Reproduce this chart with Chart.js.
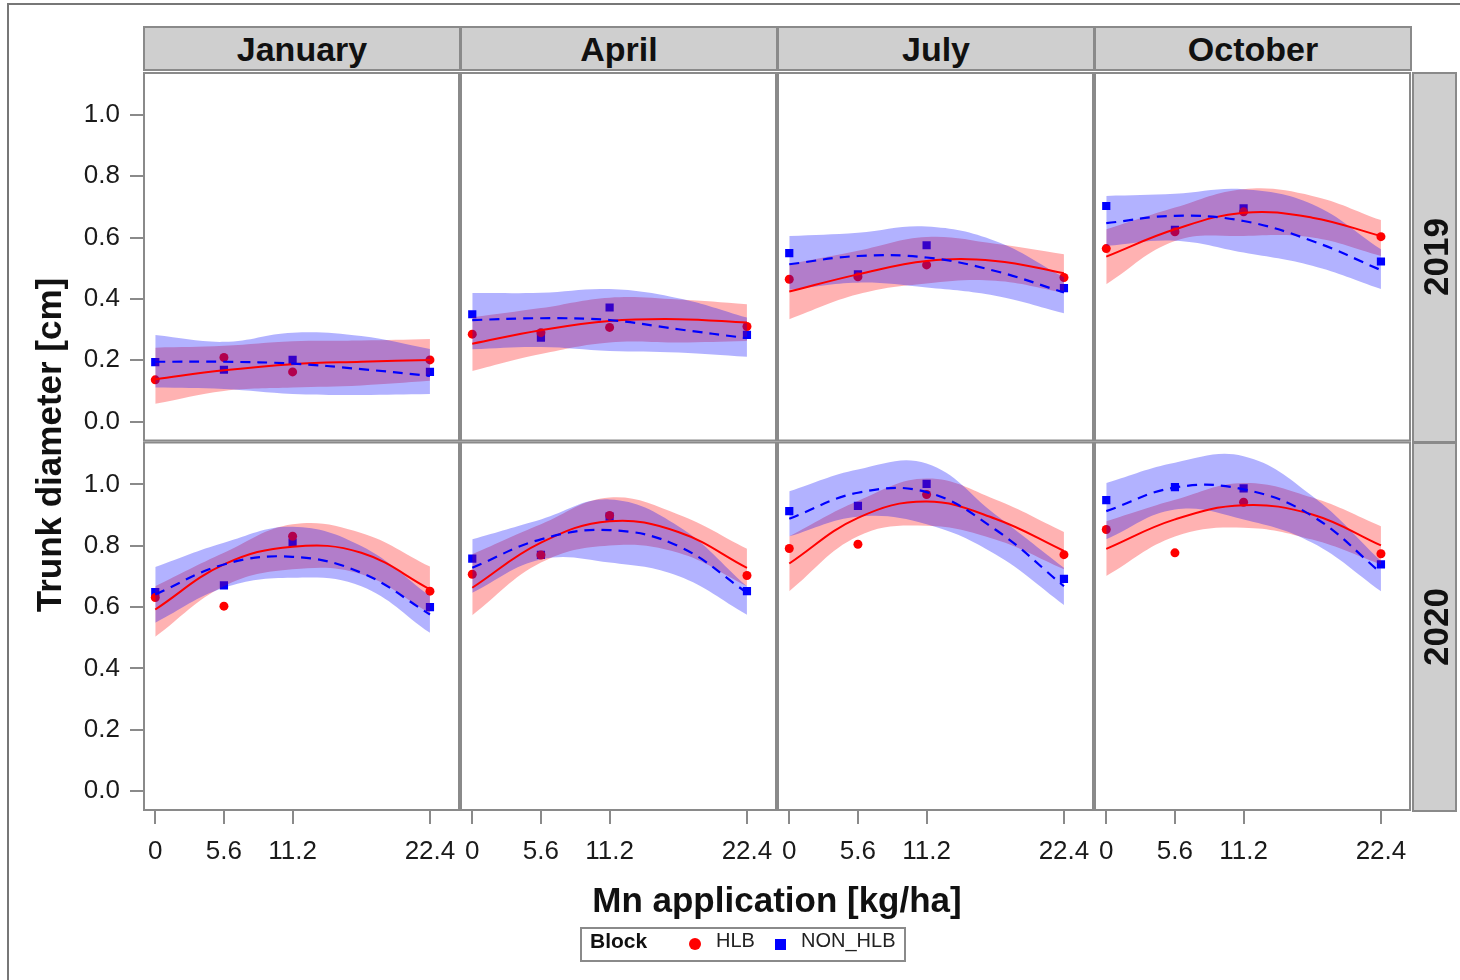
<!DOCTYPE html>
<html>
<head>
<meta charset="utf-8">
<title>Trunk diameter by Mn application</title>
<script src="https://cdn.jsdelivr.net/npm/chart.js@4.4.1/dist/chart.umd.min.js"></script>
<style>
  body { margin: 0; background: #fff; font-family: "Liberation Sans", Arial, sans-serif; }
  #wrap { position: relative; width: 1460px; height: 980px; overflow: hidden; }
  #chart { position: absolute; left: 0; top: 0; }
  .outer { position: absolute; left: 7px; top: 3px; width: 1480px; height: 1000px; border: 2px solid #777; box-sizing: border-box; }
  .strip { position: absolute; background: #cfcfcf; border: 2px solid #8a8a8a; box-sizing: border-box;
           display: flex; align-items: center; justify-content: center;
           font-weight: bold; font-size: 34px; line-height: 1; color: #111; }
  .rot { position: absolute; left: 50%; top: 50%; transform: translate(-50%, -50%) rotate(-90deg); white-space: nowrap; font-size: 35px; }
  .title { position: absolute; font-weight: bold; font-size: 35px; line-height: 1; color: #111; white-space: nowrap; }
  #legend { position: absolute; left: 580px; top: 927px; width: 326px; height: 35px; border: 2px solid #8a8a8a; box-sizing: border-box; }
  #legend span { position: absolute; top: -4px; line-height: 31px; font-size: 20px; color: #222; }
  #legend .mk { top: auto; }
</style>
</head>
<body>
<div id="wrap">
  <canvas id="chart" width="1460" height="980"></canvas>
  <div class="outer"></div>
  <div class="title" id="ytitle" style="left:48px; top:445px; transform: translate(-50%, -50%) rotate(-90deg);">Trunk diameter [cm]</div>
  <div class="title" id="xtitle" style="left:143px; width:1268px; top:882px; text-align:center;">Mn application [kg/ha]</div>
  <div id="legend">
    <span style="left:8px; font-weight:bold; font-size:21px; color:#111;">Block</span>
    <span class="mk" style="left:107px; top:9px; width:12px; height:12px; border-radius:50%; background:#ff0000;"></span>
    <span style="left:134px;">HLB</span>
    <span class="mk" style="left:193px; top:10px; width:11px; height:11px; background:#0000ff;"></span>
    <span style="left:219px;">NON_HLB</span>
  </div>
</div>
<script>
const months = ["January", "April", "July", "October"];
const years = ["2019", "2020"];
const doses = [0, 5.6, 11.2, 22.4];
const fitX = [0, 5.6, 11.2, 16.8, 22.4];
const xTickLabels = ["0", "5.6", "11.2", "22.4"];
const yTicks = [0, 0.2, 0.4, 0.6, 0.8, 1.0];

// rows: January, April, July, October
const hlbMean2019 = [
  [0.136, 0.209, 0.162, 0.201],
  [0.285, 0.290, 0.307, 0.310],
  [0.464, 0.472, 0.511, 0.470],
  [0.564, 0.619, 0.684, 0.603]
];
const nonMean2019 = [
  [0.194, 0.169, 0.201, 0.162],
  [0.350, 0.274, 0.372, 0.283],
  [0.549, 0.480, 0.575, 0.435],
  [0.703, 0.625, 0.695, 0.522]
];
const hlbFit2019 = [
  [0.138, 0.167, 0.187, 0.195, 0.201],
  [0.254, 0.298, 0.328, 0.334, 0.323],
  [0.424, 0.480, 0.524, 0.524, 0.484],
  [0.538, 0.627, 0.681, 0.665, 0.605]
];
const nonFit2019 = [
  [0.195, 0.195, 0.189, 0.171, 0.149],
  [0.331, 0.337, 0.331, 0.301, 0.272],
  [0.513, 0.540, 0.535, 0.491, 0.421],
  [0.647, 0.671, 0.654, 0.589, 0.494]
];
const hlbLow2019 = [
  [0.058, 0.100, 0.111, 0.118, 0.133],
  [0.165, 0.220, 0.258, 0.258, 0.263],
  [0.334, 0.415, 0.450, 0.459, 0.420],
  [0.448, 0.589, 0.605, 0.600, 0.540]
];
const hlbHigh2019 = [
  [0.241, 0.247, 0.262, 0.264, 0.269],
  [0.340, 0.370, 0.404, 0.398, 0.383],
  [0.513, 0.557, 0.602, 0.580, 0.546],
  [0.627, 0.698, 0.758, 0.736, 0.657]
];
const nonLow2019 = [
  [0.111, 0.106, 0.090, 0.087, 0.090],
  [0.236, 0.243, 0.230, 0.225, 0.211],
  [0.430, 0.453, 0.437, 0.410, 0.353],
  [0.573, 0.590, 0.551, 0.508, 0.432]
];
const nonHigh2019 = [
  [0.282, 0.260, 0.290, 0.279, 0.237],
  [0.419, 0.420, 0.432, 0.402, 0.339],
  [0.605, 0.616, 0.636, 0.589, 0.471],
  [0.736, 0.743, 0.758, 0.709, 0.562]
];

const hlbMean2020 = [
  [0.631, 0.603, 0.831, 0.652],
  [0.707, 0.770, 0.899, 0.703],
  [0.791, 0.805, 0.967, 0.771],
  [0.853, 0.777, 0.942, 0.774]
];
const nonMean2020 = [
  [0.649, 0.671, 0.810, 0.600],
  [0.758, 0.770, 0.895, 0.652],
  [0.913, 0.930, 1.002, 0.692],
  [0.949, 0.991, 0.987, 0.739]
];
const hlbFit2020 = [
  [0.592, 0.739, 0.797, 0.777, 0.658],
  [0.663, 0.810, 0.880, 0.845, 0.728],
  [0.742, 0.891, 0.944, 0.888, 0.783],
  [0.790, 0.886, 0.932, 0.902, 0.801]
];
const nonFit2020 = [
  [0.641, 0.739, 0.764, 0.712, 0.576],
  [0.728, 0.821, 0.851, 0.799, 0.647],
  [0.888, 0.973, 0.975, 0.853, 0.668],
  [0.913, 0.990, 0.984, 0.897, 0.712]
];
const hlbLow2020 = [
  [0.503, 0.668, 0.723, 0.707, 0.580],
  [0.573, 0.745, 0.801, 0.777, 0.668],
  [0.652, 0.831, 0.865, 0.820, 0.723],
  [0.701, 0.830, 0.859, 0.820, 0.739]
];
const hlbHigh2020 = [
  [0.668, 0.777, 0.870, 0.842, 0.732],
  [0.772, 0.870, 0.957, 0.902, 0.790],
  [0.831, 0.946, 1.019, 0.951, 0.845],
  [0.880, 0.950, 1.005, 0.957, 0.864]
];
const nonLow2020 = [
  [0.549, 0.663, 0.696, 0.668, 0.516],
  [0.647, 0.755, 0.745, 0.701, 0.575],
  [0.831, 0.895, 0.870, 0.772, 0.607],
  [0.821, 0.918, 0.886, 0.810, 0.652]
];
const nonHigh2020 = [
  [0.731, 0.810, 0.862, 0.799, 0.636],
  [0.821, 0.886, 0.951, 0.864, 0.668],
  [0.978, 1.049, 1.068, 0.902, 0.728],
  [1.005, 1.071, 1.092, 0.962, 0.750]
];

const byYear = [
  { hlbMean: hlbMean2019, nonMean: nonMean2019, hlbFit: hlbFit2019, nonFit: nonFit2019,
    hlbLow: hlbLow2019, hlbHigh: hlbHigh2019, nonLow: nonLow2019, nonHigh: nonHigh2019 },
  { hlbMean: hlbMean2020, nonMean: nonMean2020, hlbFit: hlbFit2020, nonFit: nonFit2020,
    hlbLow: hlbLow2020, hlbHigh: hlbHigh2020, nonLow: nonLow2020, nonHigh: nonHigh2020 }
];

const RED = "#ff0000", BLUE = "#0000ff";
const FONT = '"Liberation Sans", Arial, sans-serif';
Chart.defaults.font.family = FONT;

function xy(xs, ys) {
  return xs.map((x, i) => ({ x: x, y: ys[i] }));
}

const datasets = [];
years.forEach((yr, r) => {
  const d = byYear[r];
  months.forEach((m, c) => {
    const ax = { xAxisID: "x" + c, yAxisID: "y" + r, tension: 0.4 };
    // confidence bands (upper fills down to the following lower edge)
    datasets.push({ ...ax, label: "HLB upper", data: xy(fitX, d.hlbHigh[c]), fill: "+1",
      backgroundColor: "rgba(255,0,0,0.3)", borderColor: "transparent", borderWidth: 0, pointRadius: 0, order: 3 });
    datasets.push({ ...ax, label: "HLB lower", data: xy(fitX, d.hlbLow[c]), fill: false,
      borderColor: "transparent", borderWidth: 0, pointRadius: 0, order: 3 });
    datasets.push({ ...ax, label: "NON_HLB upper", data: xy(fitX, d.nonHigh[c]), fill: "+1",
      backgroundColor: "rgba(0,0,255,0.3)", borderColor: "transparent", borderWidth: 0, pointRadius: 0, order: 2 });
    datasets.push({ ...ax, label: "NON_HLB lower", data: xy(fitX, d.nonLow[c]), fill: false,
      borderColor: "transparent", borderWidth: 0, pointRadius: 0, order: 2 });
    // fitted curves
    datasets.push({ ...ax, label: "HLB fit", data: xy(fitX, d.hlbFit[c]), fill: false,
      borderColor: RED, borderWidth: 2, pointRadius: 0, order: 1 });
    datasets.push({ ...ax, label: "NON_HLB fit", data: xy(fitX, d.nonFit[c]), fill: false,
      borderColor: BLUE, borderWidth: 2.2, borderDash: [10, 7], pointRadius: 0, order: 0 });
    // observed means
    datasets.push({ ...ax, label: "HLB", data: xy(doses, d.hlbMean[c]), showLine: false,
      pointStyle: "circle", pointRadius: 4.5, pointBorderWidth: 0, pointBackgroundColor: RED, order: 4 });
    datasets.push({ ...ax, label: "NON_HLB", data: xy(doses, d.nonMean[c]), showLine: false,
      pointStyle: "rect", pointRadius: 5.8, pointBorderWidth: 0, pointBackgroundColor: BLUE, order: 4 });
  });
});

const tickFont = { family: FONT, size: 26 };
const scales = {};
months.forEach((m, c) => {
  scales["x" + c] = {
    type: "linear", position: "bottom", stack: "cols", min: -1, max: 24.85,
    afterBuildTicks: s => { s.ticks = doses.map(v => ({ value: v })); },
    afterFit: s => { s.height = 50; },
    grid: { drawOnChartArea: false, tickLength: 13, color: "#8a8a8a", lineWidth: 2 },
    border: { display: false },
    ticks: { autoSkip: false, maxRotation: 0, minRotation: 0, padding: 12, color: "#1a1a1a", font: tickFont,
      callback: (v, i) => xTickLabels[i] }
  };
});
years.forEach((yr, r) => {
  scales["y" + r] = {
    type: "linear", position: "left", stack: "rows", weight: years.length - r, min: -0.065, max: 1.14,
    afterBuildTicks: s => { s.ticks = yTicks.map(v => ({ value: v })); },
    afterFit: s => { s.width = 143; },
    grid: { drawOnChartArea: false, tickLength: 13, color: "#8a8a8a", lineWidth: 2 },
    border: { display: false },
    ticks: { autoSkip: false, padding: 10, color: "#1a1a1a", font: tickFont,
      callback: v => v.toFixed(1) }
  };
});

// grey frame round every panel
const panelFrames = {
  id: "panelFrames",
  afterDraw(chart) {
    const ctx = chart.ctx;
    ctx.save();
    ctx.strokeStyle = "#8a8a8a";
    ctx.lineWidth = 2;
    years.forEach((yr, r) => {
      months.forEach((m, c) => {
        const xs = chart.scales["x" + c], ys = chart.scales["y" + r];
        ctx.strokeRect(xs.left + 1, ys.top + 1, xs.width - 2, ys.height - 2);
      });
    });
    ctx.restore();
  }
};

const chart = new Chart(document.getElementById("chart"), {
  type: "line",
  data: { datasets: datasets },
  options: {
    responsive: false,
    animation: false,
    devicePixelRatio: 1,
    layout: { padding: { top: 72, right: 49, bottom: 119, left: 0 } },
    scales: scales,
    plugins: { legend: { display: false }, tooltip: { enabled: false } }
  },
  plugins: [panelFrames]
});

// facet strips placed from the chart's own scales
const wrap = document.getElementById("wrap");
months.forEach((m, c) => {
  const xs = chart.scales["x" + c];
  const div = document.createElement("div");
  div.className = "strip";
  div.style.left = xs.left + "px";
  div.style.width = (xs.width + 1) + "px";
  div.style.top = "26px";
  div.style.height = (chart.chartArea.top - 27) + "px";
  div.textContent = m;
  wrap.appendChild(div);
});
years.forEach((yr, r) => {
  const ys = chart.scales["y" + r];
  const div = document.createElement("div");
  div.className = "strip";
  div.style.left = (chart.chartArea.right + 1) + "px";
  div.style.width = "45px";
  div.style.top = ys.top + "px";
  div.style.height = (ys.height + 1) + "px";
  const t = document.createElement("div");
  t.className = "rot";
  t.textContent = yr;
  div.appendChild(t);
  wrap.appendChild(div);
});
</script>
</body>
</html>
